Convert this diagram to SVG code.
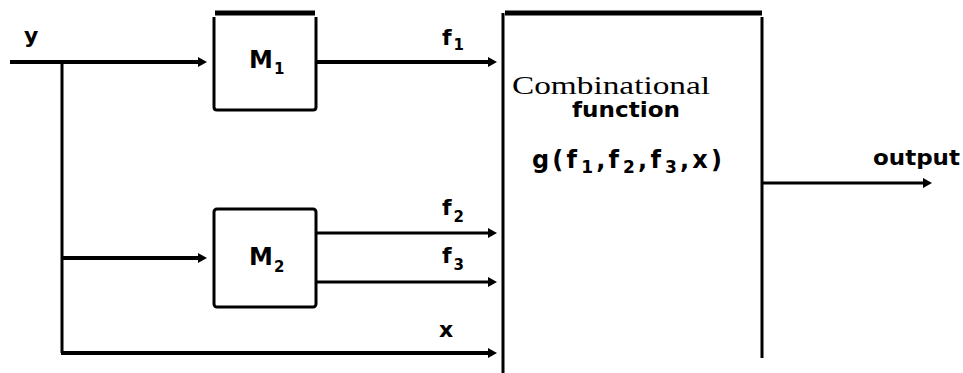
<svg xmlns="http://www.w3.org/2000/svg" width="963" height="373" viewBox="0 0 963 373">
  <style>
    .bar { stroke: #000; stroke-width: 5; fill: none; }
    .edge { stroke: #000; stroke-width: 3; fill: none; stroke-linejoin: round; }
    .wire { stroke: #000; stroke-width: 4; fill: none; }
    .wire-thin { stroke: #000; stroke-width: 3; fill: none; }
    .lbl { font-family: "DejaVu Sans", "Liberation Sans", sans-serif; font-weight: bold; font-size: 22px; fill: #000; }
    .big { font-size: 24px; }
    .sub { font-size: 15px; }
    .sub-lg { font-size: 17px; }
    .serif { font-family: "Liberation Serif", "DejaVu Serif", serif; font-size: 25px; fill: #000; }
  </style>
  <defs>
    <marker id="arrow" markerUnits="userSpaceOnUse" markerWidth="10" markerHeight="10" viewBox="0 0 10 10" refX="3" refY="5" orient="auto">
      <path d="M0,0 L9,5 L0,10 z" fill="#000"/>
    </marker>
  </defs>
  <rect width="963" height="373" fill="#fff"/>

  <!-- signal lines -->
  <g id="connectors">
    <line class="wire" x1="10" y1="62" x2="201" y2="62" marker-end="url(#arrow)"/>
    <line class="wire-thin" x1="62" y1="62" x2="62" y2="353"/>
    <line class="wire" x1="61" y1="258" x2="201" y2="258" marker-end="url(#arrow)"/>
    <line class="wire" x1="61" y1="353" x2="491" y2="353" marker-end="url(#arrow)"/>
    <line class="wire" x1="317" y1="62" x2="491" y2="62" marker-end="url(#arrow)"/>
    <line class="wire-thin" x1="317" y1="233" x2="491" y2="233" marker-end="url(#arrow)"/>
    <line class="wire-thin" x1="317" y1="282" x2="491" y2="282" marker-end="url(#arrow)"/>
    <line class="wire-thin" x1="762" y1="183" x2="926" y2="183" marker-end="url(#arrow)"/>
  </g>

  <!-- signal names -->
  <g id="labels">
    <text class="lbl" x="24" y="43">y</text>
    <text class="lbl" x="442" y="45">f<tspan class="sub" dx="2" dy="5">1</tspan></text>
    <text class="lbl" x="442" y="215">f<tspan class="sub" dx="2" dy="7">2</tspan></text>
    <text class="lbl" x="442" y="263">f<tspan class="sub" dx="2" dy="7">3</tspan></text>
    <text class="lbl" x="439" y="337">x</text>
    <text class="lbl" x="873" y="165" textLength="87" lengthAdjust="spacingAndGlyphs">output</text>
  </g>

  <!-- memory block M1 -->
  <g id="m1">
    <line class="bar" x1="215" y1="13" x2="315" y2="13"/>
    <path class="edge" d="M214,17 V107 Q214,110 217,110 H313 Q316,110 316,107 V17"/>
    <text class="lbl big" x="249" y="68">M<tspan class="sub" dx="1" dy="6">1</tspan></text>
  </g>

  <!-- memory block M2 -->
  <g id="m2">
    <rect class="edge" x="214" y="209" width="102" height="98" rx="3"/>
    <text class="lbl big" x="249" y="265">M<tspan class="sub" dx="1" dy="7">2</tspan></text>
  </g>

  <!-- combinational function block -->
  <g id="comb">
    <line class="bar" x1="505" y1="13" x2="762" y2="13"/>
    <line class="edge" x1="503" y1="13" x2="503" y2="373"/>
    <line class="edge" x1="762" y1="17" x2="762" y2="358"/>
    <text class="serif" x="512" y="94" textLength="198" lengthAdjust="spacingAndGlyphs">Combinational</text>
    <text class="lbl" x="572" y="117" textLength="108" lengthAdjust="spacingAndGlyphs">function</text>
    <text class="lbl big" x="532" y="168" textLength="190" lengthAdjust="spacing">g(f<tspan class="sub-lg" dx="1" dy="5">1</tspan><tspan dy="-5">,f</tspan><tspan class="sub-lg" dx="1" dy="5">2</tspan><tspan dy="-5">,f</tspan><tspan class="sub-lg" dx="1" dy="5">3</tspan><tspan dy="-5">,x)</tspan></text>
  </g>
</svg>
